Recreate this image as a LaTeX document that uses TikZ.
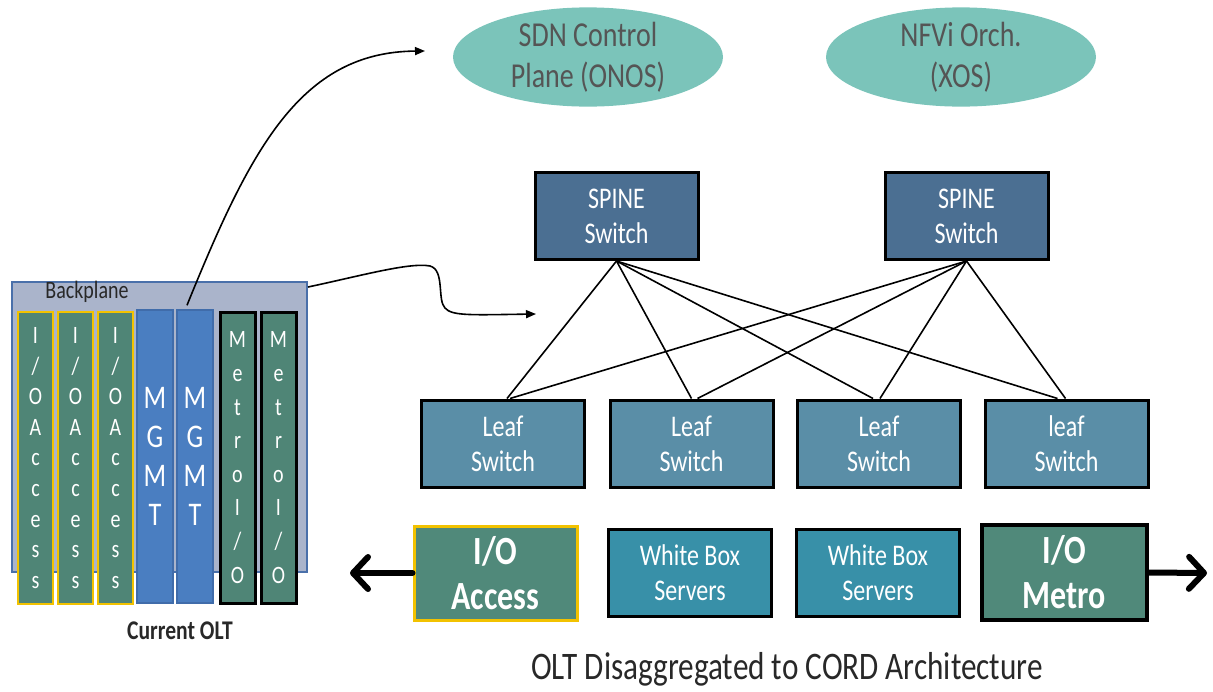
\documentclass[tikz,border=0pt]{standalone}
\usepackage{fontspec}
\setmainfont{Carlito}[FakeStretch=0.8]
\usetikzlibrary{arrows.meta,calc,shapes.geometric}
\definecolor{ellfill}{RGB}{123,196,186}
\definecolor{elltext}{RGB}{85,85,85}
\definecolor{spinefill}{RGB}{75,111,146}
\definecolor{leaffill}{RGB}{90,142,167}
\definecolor{wbfill}{RGB}{56,144,168}
\definecolor{iofill}{RGB}{80,137,122}
\definecolor{yellowb}{RGB}{242,194,0}
\definecolor{cardgreen}{RGB}{79,133,118}
\definecolor{mgmtblue}{RGB}{74,126,193}
\definecolor{mgmtborder}{RGB}{64,108,170}
\definecolor{bpfill}{RGB}{170,180,203}
\definecolor{bpborder}{RGB}{74,112,170}
\definecolor{captext}{RGB}{40,40,40}
\begin{document}
\begin{tikzpicture}[x=1pt,y=-1pt,
  ell/.style={ellipse, fill=ellfill, minimum width=270, minimum height=94, inner sep=0,
    text=elltext, align=center, font=\fontsize{35}{41}\selectfont},
  swbox/.style={draw=black, line width=3, minimum width=163, minimum height=87,
    text=white, align=center, inner sep=0, font=\fontsize{30}{35}\selectfont},
  spinebox/.style={swbox, fill=spinefill},
  leafbox/.style={swbox, fill=leaffill},
  wbbox/.style={swbox, fill=wbfill},
  iobox/.style={draw=black, line width=3, fill=iofill, minimum width=163, minimum height=94,
    text=white, align=center, inner sep=0, font=\bfseries\fontsize{40}{45}\selectfont},
  iocard/.style={draw=yellowb, line width=2.5, fill=cardgreen, minimum width=35, minimum height=292,
    inner sep=0, text=white, align=center, font=\fontsize{25}{30.6}\selectfont},
  mgmtcard/.style={draw=mgmtborder, line width=1.5, fill=mgmtblue, minimum width=36, minimum height=293,
    inner sep=0, text=white, align=center, font=\fontsize{33}{39}\selectfont},
  metrocard/.style={draw=black, line width=3, fill=cardgreen, minimum width=35, minimum height=291,
    inner sep=0, text=white, align=center, font=\fontsize{25}{33.6}\selectfont},
  link/.style={draw=black, line width=1.6},
  thinarrow/.style={draw=black, line width=1.6, -{Triangle[length=10pt,width=8pt]}},
  bigarrow/.style={draw=black, line width=6, line cap=round,
    -{Straight Barb[length=15pt,width=32pt,line cap=round,line join=round]}}
]
\useasboundingbox (0,0) rectangle (1213,691);

% ellipses
\node[ell] (sdn) at (588,57) {SDN Control\\Plane (ONOS)};
\node[ell] (nfv) at (961,57) {NFVi Orch.\\(XOS)};

% spine
\node[spinebox] (s1) at (616.5,216) {SPINE\\Switch};
\node[spinebox] (s2) at (966.5,216) {SPINE\\Switch};

% leaves
\node[leafbox] (l1) at (503,443.5) {Leaf\\Switch};
\node[leafbox] (l2) at (691.5,443.5) {Leaf\\Switch};
\node[leafbox] (l3) at (879,443.5) {Leaf\\Switch};
\node[leafbox] (l4) at (1066.5,443.5) {leaf\\Switch};

% links
\draw[link] (s1.south) -- ([xshift=4pt]l1.north);
\draw[link] (s1.south) -- ([xshift=0pt]l2.north);
\draw[link] (s1.south) -- ([xshift=-6pt]l3.north);
\draw[link] (s1.south) -- ([xshift=-9pt]l4.north);
\draw[link] (s2.south) -- ([xshift=7pt]l1.north);
\draw[link] (s2.south) -- ([xshift=6pt]l2.north);
\draw[link] (s2.south) -- ([xshift=1pt]l3.north);
\draw[link] (s2.south) -- ([xshift=-1pt]l4.north);

% bottom row
\node[iobox, draw=yellowb] (acc) at (495.5,573) {I/O\\Access};
\node[wbbox, minimum height=87] (wb1) at (690,572.5) {White Box\\Servers};
\node[wbbox, minimum height=87] (wb2) at (878,572.5) {White Box\\Servers};
\node[iobox, line width=4, minimum width=165, minimum height=95] (met) at (1064.5,572.5) {I/O\\Metro};

\coordinate (accout) at (350,573);
\coordinate (metout) at (1207,573);
\draw[bigarrow] (acc.west) -- (accout);
\draw[bigarrow] (met.east) -- (metout);

% current OLT
\node[draw=bpborder, line width=2, fill=bpfill, minimum width=295, minimum height=290, inner sep=0] (bp) at (159.5,427) {};
\node[text=captext, font=\fontsize{25}{28}\selectfont] (bplabel) at (87,292) {Backplane};

\node[iocard] (c1) at (35.5,458) {I\\/\\O\\A\\c\\c\\e\\s\\s};
\node[iocard] (c2) at (75.5,458) {I\\/\\O\\A\\c\\c\\e\\s\\s};
\node[iocard] (c3) at (115.5,458) {I\\/\\O\\A\\c\\c\\e\\s\\s};
\node[mgmtcard] (m1) at (155,456.5) {M\\G\\M\\T};
\node[mgmtcard] (m2) at (195,456.5) {M\\G\\M\\T};
\node[metrocard] (r1) at (237.5,457.5) {M\\e\\t\\r\\o\\I\\/\\O};
\node[metrocard] (r2) at (278.5,457.5) {M\\e\\t\\r\\o\\I\\/\\O};

\node[font=\bfseries\fontsize{27}{30}\selectfont, text=captext] (olt) at (180,631) {Current OLT};

% curved arrows
\coordinate (sdnin) at (425,51);
\coordinate (fabin) at (536,314);
\draw[thinarrow] ([xshift=-8pt,yshift=4pt]m2.north) .. controls (250,150) and (300,52) .. (sdnin);
\draw[thinarrow] ([yshift=-6pt]bp.north east) .. controls (360,276) and (410,262) .. (430,266)
  .. controls (445,270) and (437,300) .. (445,308) .. controls (452,316) and (470,315) .. (fabin);

% caption
\node[text=captext, font=\fontsize{39}{42}\selectfont] (cap) at (787,669) {OLT Disaggregated to CORD Architecture};
\end{tikzpicture}
\end{document}
